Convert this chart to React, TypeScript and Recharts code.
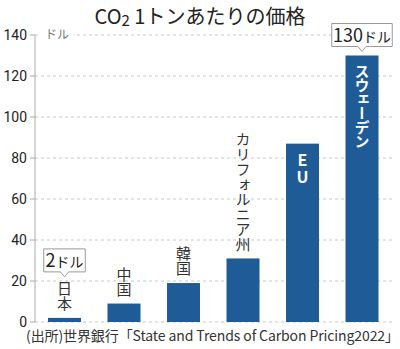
import React from 'react';
import { BarChart, Bar, XAxis, YAxis, CartesianGrid } from 'recharts';

const categories = ['日本', '中国', '韓国', 'カリフォルニア州', 'EU', 'スウェーデン'];
const prices = [2, 9, 19, 31, 87, 130];
const insideBar = [false, false, false, false, true, true];
const callouts = ['2ドル', '', '', '', '', '130ドル'];
const yTicks = [0, 20, 40, 60, 80, 100, 120, 140];

const data = categories.map((name, i) => ({
  name,
  price: prices[i],
  inside: insideBar[i],
  callout: callouts[i],
}));

const JP = '"Noto Sans CJK JP", "Noto Sans", sans-serif';
const BAR_COLOR = '#1f5b96';

const Callout = ({ cx, tip, text }: { cx: number; tip: number; text: string }) => {
  const digits = text.replace('ドル', '');
  const w = digits.length * 9.5 + 32;
  const h = 23;
  const bottom = tip - 5;
  const top = bottom - h;
  const left = cx - w / 2;
  return (
    <g>
      <path
        d={`M${left},${top} H${left + w} V${bottom} H${cx + 4} L${cx},${tip} L${cx - 4},${bottom} H${left} Z`}
        fill="#fff"
        stroke="#999"
        strokeWidth={1}
      />
      <text
        x={cx}
        y={bottom - 5}
        textAnchor="middle"
        fill="#222"
        fontFamily={JP}
      >
        <tspan fontSize={18}>{digits}</tspan>
        <tspan fontSize={14}>ドル</tspan>
      </text>
    </g>
  );
};

const LabeledBar = (props: any) => {
  const { x, y, width, height, payload } = props;
  const cx = x + width / 2;
  const chars = payload.name.length;
  let labelTop = y;
  let label;
  if (payload.inside) {
    label = (
      <text
        x={cx}
        y={y + 8}
        fill="#fff"
        fontFamily={JP}
        fontWeight="bold"
        fontSize={payload.name === 'EU' ? 16 : 15}
        style={{ writingMode: 'vertical-rl', textOrientation: 'upright' } as any}
        letterSpacing={payload.name === 'EU' ? 1 : -1}
      >
        {payload.name}
      </text>
    );
  } else {
    labelTop = y - 7 - chars * 15;
    label = (
      <text
        x={cx}
        y={y - 7}
        textAnchor="end"
        fill="#333"
        fontFamily={JP}
        fontSize={15}
        style={{ writingMode: 'vertical-rl', textOrientation: 'upright' } as any}
      >
        {payload.name}
      </text>
    );
  }
  return (
    <g>
      <rect x={x} y={y} width={width} height={height} fill={BAR_COLOR} />
      {label}
      {payload.callout ? <Callout cx={cx} tip={labelTop - 4} text={payload.callout} /> : null}
    </g>
  );
};

export default function App() {
  return (
    <div style={{ position: 'relative', width: 400, height: 349, background: '#fff', fontFamily: JP }}>
      <style>{'body{margin:0}'}</style>
      <BarChart
        width={400}
        height={349}
        data={data}
        margin={{ top: 35, right: 8, left: 0, bottom: 27 }}
      >
        <CartesianGrid stroke="#c8c8c8" strokeDasharray="3 3" vertical={false} />
        <XAxis dataKey="name" tick={false} tickLine={false} height={0} axisLine={{ stroke: '#aaa' }} />
        <YAxis
          width={35}
          domain={[0, 140]}
          ticks={yTicks}
          interval={0}
          tickSize={5}
          tickMargin={3}
          axisLine={{ stroke: '#aaa' }}
          tickLine={{ stroke: '#aaa' }}
          tick={{ fill: '#222', fontSize: 14, fontFamily: 'Roboto, sans-serif' }}
        />
        <Bar dataKey="price" barSize={33} shape={<LabeledBar />} isAnimationActive={false} />
      </BarChart>
      <div
        style={{
          position: 'absolute',
          top: 3,
          left: 0,
          width: 400,
          textAlign: 'center',
          fontSize: 20,
          color: '#222',
          lineHeight: '26px',
        }}
      >
        CO<span style={{ fontSize: 15, position: 'relative', top: 2 }}>2</span> 1トンあたりの価格
      </div>
      <div
        style={{
          position: 'absolute',
          top: 26,
          left: 41,
          padding: '0 4px',
          background: '#fff',
          fontSize: 12,
          color: '#777',
          lineHeight: '16px',
        }}
      >
        ドル
      </div>
      <div
        style={{
          position: 'absolute',
          top: 326,
          left: 26,
          fontSize: 14,
          letterSpacing: -0.1,
          color: '#333',
          lineHeight: '19px',
          whiteSpace: 'nowrap',
        }}
      >
        (出所)世界銀行「State and Trends of Carbon Pricing2022」
      </div>
    </div>
  );
}
